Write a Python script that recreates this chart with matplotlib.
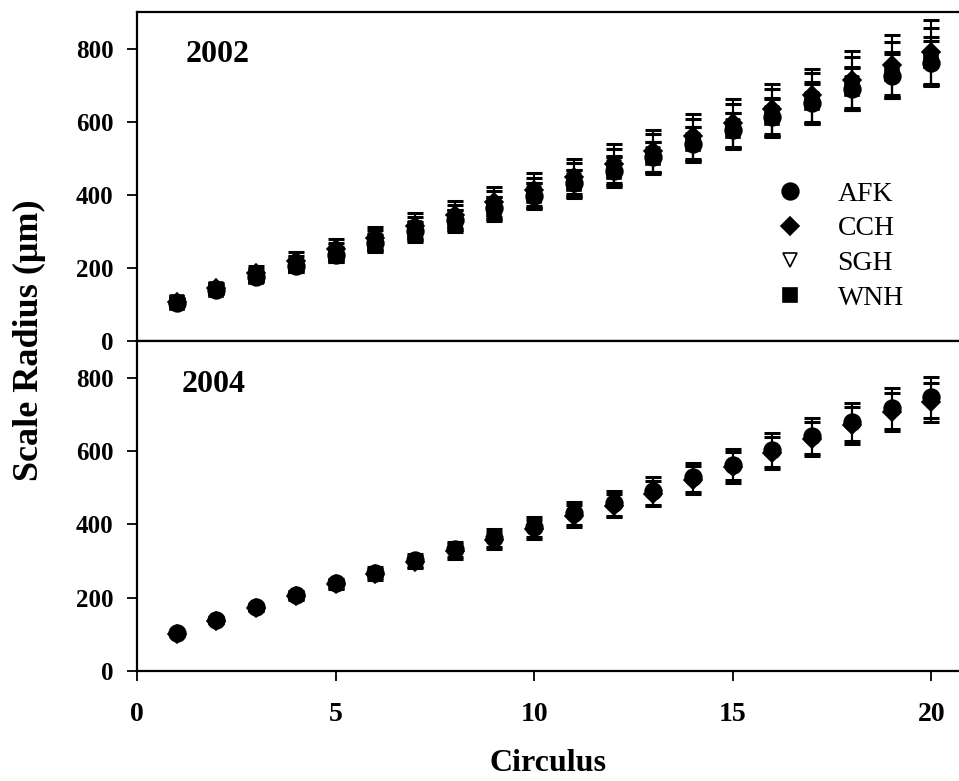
import matplotlib
matplotlib.use('Agg')
import matplotlib.pyplot as plt
import numpy as np

plt.rcParams['font.family'] = ['Liberation Serif', 'DejaVu Serif']

circulus = np.arange(1, 21)

# 2002 mean scale radius (um) and SD for each hatchery
afk_02 = [103, 140, 176, 205, 236, 268, 300, 330, 363, 398,
          432, 466, 503, 540, 576, 612, 650, 690, 725, 760]
cch_02 = [108, 146, 186, 220, 252, 282, 315, 346, 380, 414,
          450, 485, 520, 560, 596, 635, 672, 715, 755, 790]
sgh_02 = [106, 143, 181, 213, 245, 276, 308, 338, 372, 405,
          441, 476, 512, 550, 588, 625, 663, 705, 742, 778]
wnh_02 = [104, 139, 175, 205, 236, 266, 298, 328, 361, 397,
          429, 463, 501, 538, 575, 611, 652, 690, 730, 765]
afk_02_sd = [8, 10, 13, 16, 19, 22, 25, 27, 30, 33,
             36, 39, 42, 45, 48, 51, 54, 57, 60, 62]
cch_02_sd = [10, 14, 18, 23, 27, 31, 34, 38, 42, 45,
             49, 53, 57, 61, 65, 69, 73, 78, 82, 87]
sgh_02_sd = [9, 12, 16, 20, 24, 28, 31, 35, 38, 42,
             46, 49, 53, 57, 61, 65, 69, 72, 76, 79]
wnh_02_sd = [8, 11, 14, 17, 20, 23, 26, 29, 32, 35,
             38, 41, 44, 47, 50, 53, 56, 59, 62, 66]

# 2004: only AFK and CCH
afk_04 = [103, 139, 174, 207, 239, 268, 302, 332, 362, 393,
          430, 458, 491, 528, 563, 603, 641, 680, 716, 746]
cch_04 = [101, 137, 172, 205, 236, 264, 297, 326, 356, 386,
          423, 451, 484, 521, 555, 595, 632, 670, 707, 733]
afk_04_sd = [5, 7, 9, 11, 13, 15, 18, 21, 24, 28,
             32, 34, 37, 40, 43, 46, 49, 52, 55, 57]
cch_04_sd = [5, 7, 9, 11, 13, 15, 17, 20, 23, 26,
             30, 32, 35, 38, 41, 44, 47, 50, 52, 53]

styles = {
    'AFK': dict(marker='o', ms=12, mfc='k'),
    'CCH': dict(marker='D', ms=9, mfc='k'),
    'SGH': dict(marker='v', ms=10, mfc='white'),
    'WNH': dict(marker='s', ms=10.5, mfc='k'),
}


def draw(ax, name, y, sd):
    ax.errorbar(circulus, y, yerr=sd, fmt='none', ecolor='k',
                elinewidth=1.5, capsize=6, capthick=2.2, zorder=2)
    ax.plot(circulus, y, ls='none', mec='k', mew=1.2, label=name,
            zorder=3, **styles[name])


def setAxis(ax):
    ax.set_xlim(0, 20.75)
    ax.set_ylim(0, 900)
    ax.set_yticks([0, 200, 400, 600, 800])
    ax.set_xticks([0, 5, 10, 15, 20])
    for s in ax.spines.values():
        s.set_linewidth(1.6)
    ax.tick_params(axis='both', width=1.3, length=7)
    ax.tick_params(axis='y', labelsize=18, pad=10)
    ax.tick_params(axis='x', labelsize=20, pad=15)
    for lab in ax.get_yticklabels() + ax.get_xticklabels():
        lab.set_fontweight('bold')


fig = plt.figure(figsize=(9.59, 7.81), dpi=100)
ax1 = fig.add_axes([0.1429, 0.5634, 0.8592, 0.4212])
ax2 = fig.add_axes([0.1429, 0.1409, 0.8592, 0.4225])

draw(ax1, 'SGH', sgh_02, sgh_02_sd)
draw(ax1, 'WNH', wnh_02, wnh_02_sd)
draw(ax1, 'AFK', afk_02, afk_02_sd)
draw(ax1, 'CCH', cch_02, cch_02_sd)

draw(ax2, 'AFK', afk_04, afk_04_sd)
draw(ax2, 'CCH', cch_04, cch_04_sd)

setAxis(ax1)
setAxis(ax2)
ax1.tick_params(axis='x', labelbottom=False)
ax2.tick_params(axis='y', right=True)

ax1.text(0.059, 0.87, '2002', transform=ax1.transAxes, fontsize=23,
         fontweight='bold', va='center', ha='left')
ax2.text(0.054, 0.867, '2004', transform=ax2.transAxes, fontsize=23,
         fontweight='bold', va='center', ha='left')

h, l = ax1.get_legend_handles_labels()
order = [l.index(n) for n in ['AFK', 'CCH', 'SGH', 'WNH']]
ax1.legend([h[i] for i in order], [l[i] for i in order], loc='upper left',
           bbox_to_anchor=(0.776, 0.485), frameon=False, fontsize=20,
           handlelength=1.0, handletextpad=1.2, labelspacing=0.33,
           borderpad=0, borderaxespad=0)

fig.text(0.031, 0.565, 'Scale Radius (\u03bcm)', rotation=90, fontsize=26,
         fontweight='bold', ha='center', va='center')
fig.text(0.571, 0.022, 'Circulus', fontsize=23, fontweight='bold',
         ha='center', va='center')

fig.savefig('out.png', dpi=100)
